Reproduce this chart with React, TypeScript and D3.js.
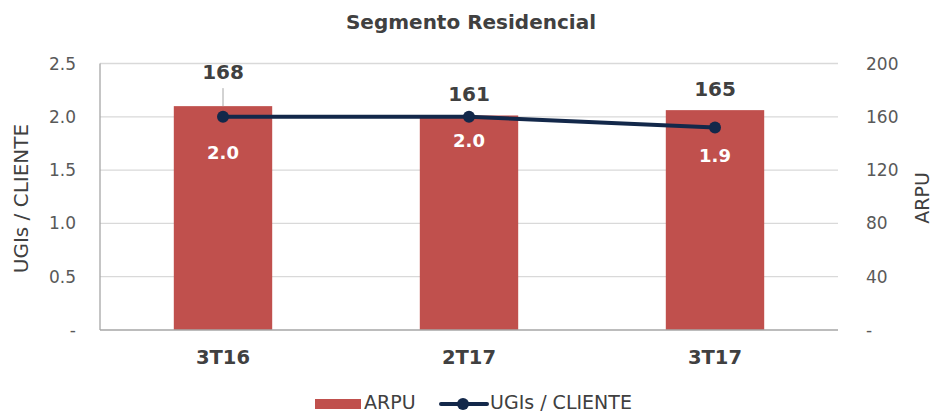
import React from "react";
import * as d3 from "d3";

const categories = ["3T16", "2T17", "3T17"];
const arpu = [168, 161, 165];
const ugis = [2.0, 2.0, 1.9];
const leftTicks = [0, 0.5, 1.0, 1.5, 2.0, 2.5];
const rightTicks = [0, 40, 80, 120, 160, 200];
const arpuLabelOffset = [34, 21, 21];
const ugiLabelOffset = [35, 23, 28];

const W = 936, H = 413;
const M = { left: 100, right: 838, top: 63.5, bottom: 330 };
const FONT = "'DejaVu Sans', Verdana, sans-serif";

export default function App() {
  const x = d3.scaleBand<string>().domain(categories).range([M.left, M.right]).paddingInner(0.6).paddingOuter(0.3);
  const xc = (c: string) => (x(c) as number) + x.bandwidth() / 2;
  const yL = d3.scaleLinear().domain([0, 2.5]).range([M.bottom, M.top]);
  const yR = d3.scaleLinear().domain([0, 200]).range([M.bottom, M.top]);
  const line = d3.line<number>().x((_, i) => xc(categories[i])).y((d) => yL(d));
  const fmtL = (v: number) => (v === 0 ? "-" : d3.format(".1f")(v));
  const fmtR = (v: number) => (v === 0 ? "-" : String(v));

  return (
    <svg width={W} height={H} style={{ position: "absolute", left: 0, top: 0, fontFamily: FONT }}>
      <rect width={W} height={H} fill="#fff" />
      <text x={471} y={29} textAnchor="middle" fontSize={20} fontWeight="bold" fill="#404040">Segmento  Residencial</text>
      {leftTicks.map((t) => (
        <g key={"g" + t}>
          {t > 0 && <line x1={M.left} x2={M.right} y1={yL(t)} y2={yL(t)} stroke="#d9d9d9" strokeWidth={1.3} />}
          <text x={76} y={yL(t) + 6} textAnchor="end" fontSize={17} fill="#595959">{fmtL(t)}</text>
        </g>
      ))}
      {rightTicks.map((t) => (
        <text key={"r" + t} x={866} y={yR(t) + 6} textAnchor="start" fontSize={17} fill="#595959">{fmtR(t)}</text>
      ))}
      <text transform={`translate(28,198.5) rotate(-90)`} textAnchor="middle" fontSize={20} fill="#404040">UGIs / CLIENTE</text>
      <text transform={`translate(929,198) rotate(-90)`} textAnchor="middle" fontSize={19} fill="#404040">ARPU</text>
      {categories.map((c, i) => (
        <rect key={c} x={x(c)} y={yR(arpu[i])} width={x.bandwidth()} height={M.bottom - yR(arpu[i])} fill="#C0504D" />
      ))}
      <line x1={M.left} x2={M.left} y1={M.top} y2={M.bottom} stroke="#a6a6a6" strokeWidth={1.3} />
      <line x1={M.left} x2={M.right} y1={M.bottom} y2={M.bottom} stroke="#a6a6a6" strokeWidth={1.5} />
      {categories.map((c) => (
        <text key={"c" + c} x={xc(c)} y={364} textAnchor="middle" fontSize={19.5} fontWeight="bold" fill="#404040">{c}</text>
      ))}
      {categories.map((c, i) => (
        <text key={"a" + c} x={xc(c)} y={yR(arpu[i]) - arpuLabelOffset[i] + 7} textAnchor="middle" fontSize={20} fontWeight="bold" fill="#404040">{arpu[i]}</text>
      ))}
      <line x1={xc(categories[0])} x2={xc(categories[0])} y1={yR(arpu[0]) - 18} y2={yR(arpu[0])} stroke="#a6a6a6" strokeWidth={1} />
      <path d={line(ugis) || ""} fill="none" stroke="#13284A" strokeWidth={4} />
      {categories.map((c, i) => (
        <circle key={"p" + c} cx={xc(c)} cy={yL(ugis[i])} r={6} fill="#13284A" />
      ))}
      {categories.map((c, i) => (
        <text key={"u" + c} x={xc(c)} y={yL(ugis[i]) + ugiLabelOffset[i] + 7} textAnchor="middle" fontSize={18} fontWeight="bold" fill="#fff">{d3.format(".1f")(ugis[i])}</text>
      ))}
      <rect x={315} y={399} width={46} height={10} fill="#C0504D" />
      <text x={364} y={409} fontSize={19} fill="#404040">ARPU</text>
      <line x1={441} x2={487} y1={404} y2={404} stroke="#13284A" strokeWidth={4} strokeLinecap="round" />
      <circle cx={463} cy={404} r={6} fill="#13284A" />
      <text x={490} y={409} fontSize={19} fill="#404040">UGIs / CLIENTE</text>
    </svg>
  );
}
